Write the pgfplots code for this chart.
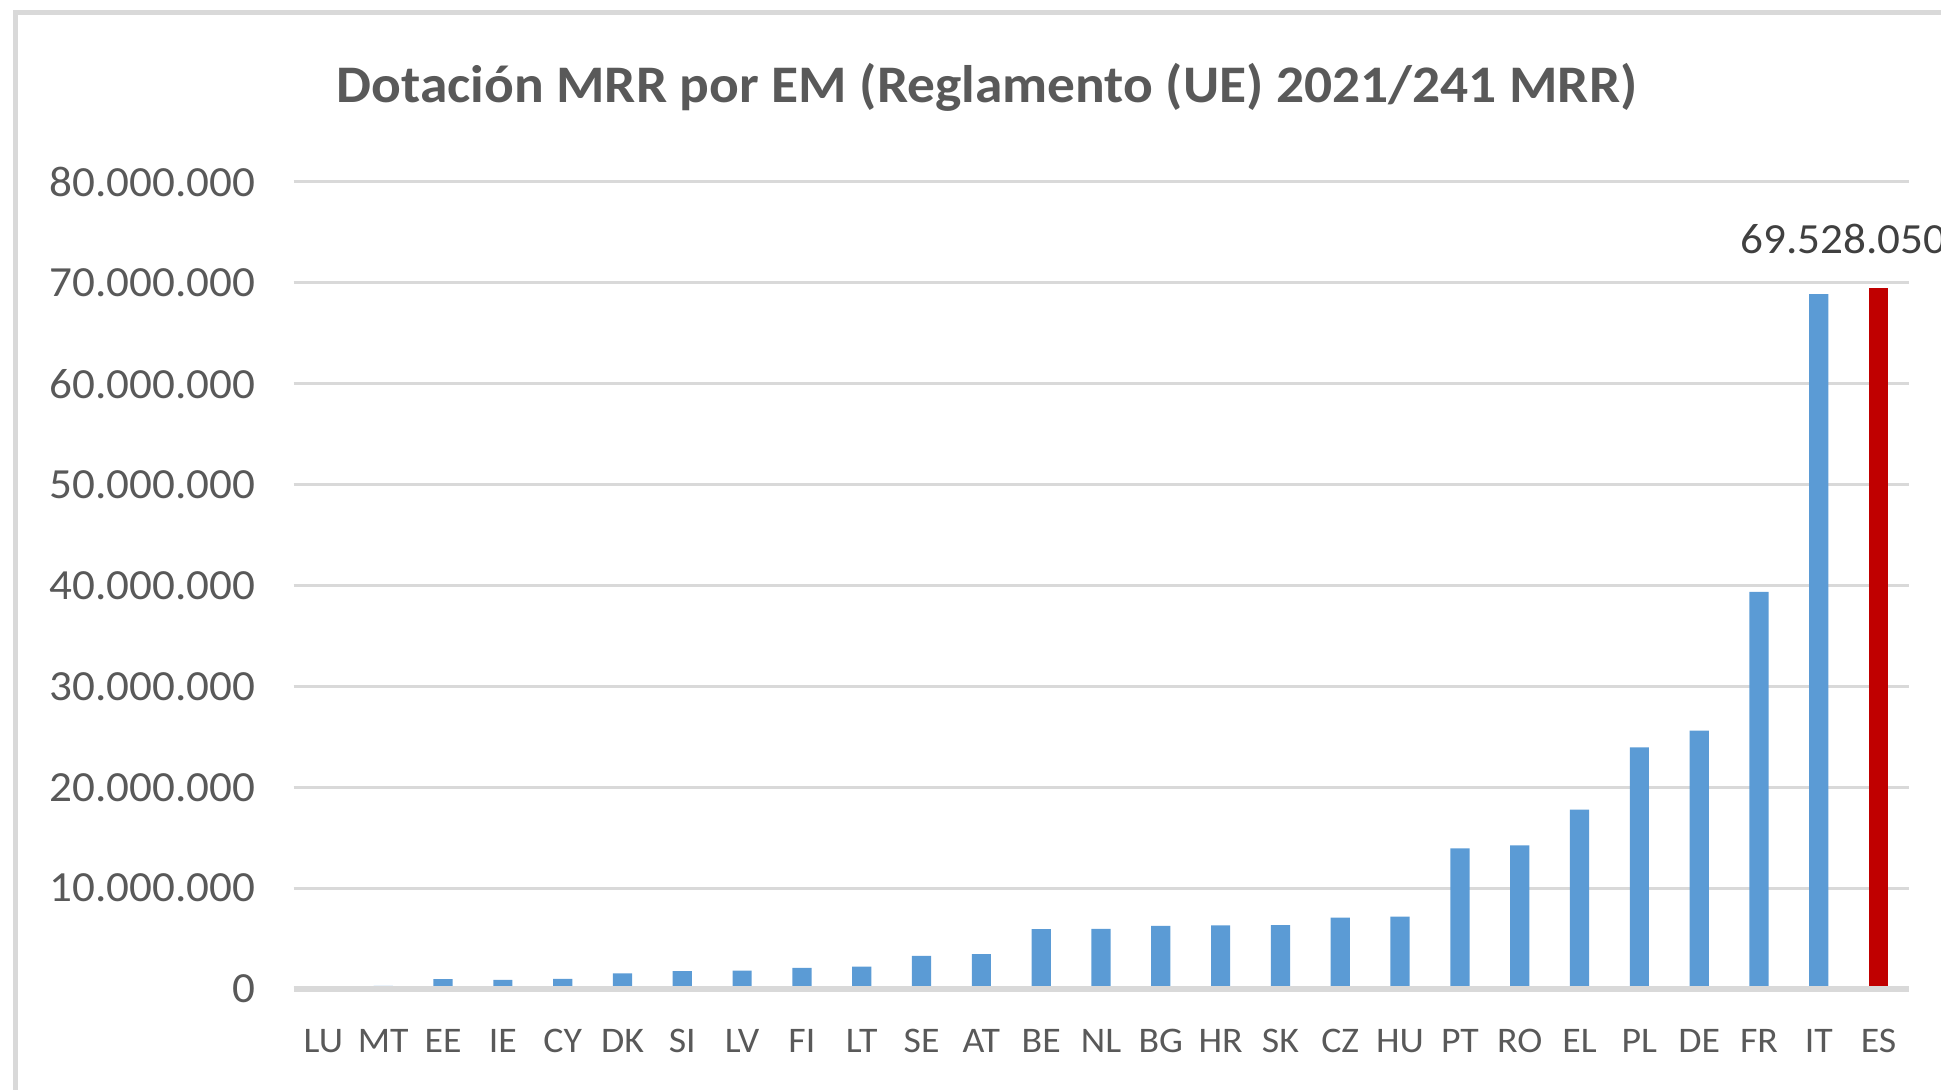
\documentclass[border=0pt]{standalone}
\usepackage{pgfplots}
\pgfplotsset{compat=1.18}
\usepackage{fontspec}
\setmainfont{Carlito}
\newfontfamily\wide[FakeStretch=1.05]{Carlito}
\definecolor{txt}{HTML}{595959}
\definecolor{lbl}{HTML}{404040}
\definecolor{gridc}{HTML}{D9D9D9}
\definecolor{barblue}{HTML}{5B9BD5}
\definecolor{barred}{HTML}{C00000}
\begin{document}
\begin{tikzpicture}
\useasboundingbox (0,0) rectangle (970.5pt,545pt);
\draw[gridc, line width=2.5pt] (7.5pt,-20pt) -- (7.5pt,538.5pt) -- (1000pt,538.5pt);
\node[anchor=base, text=txt, font=\fontsize{26.4}{30}\wide\bfseries, inner sep=0pt] at (493.5pt,493.5pt) {Dotación MRR por EM (Reglamento (UE) 2021/241 MRR)};
\begin{axis}[
 at={(146.75pt,50.5pt)}, anchor=south west,
 scale only axis, width=807.5pt, height=403.5pt,
 xmin=-0.5, xmax=26.5, ymin=0, ymax=80000000,
 ybar, bar width=9.6pt, bar shift=0pt,
 axis line style={draw=none},
 major tick length=0pt,
 clip=false,
 scaled y ticks=false,
 ymajorgrids, grid style={gridc, line width=1.5pt},
 ytick={0,10000000,20000000,30000000,40000000,50000000,60000000,70000000,80000000},
 yticklabels={0,10.000.000,20.000.000,30.000.000,40.000.000,50.000.000,60.000.000,70.000.000,80.000.000},
 yticklabel style={font=\fontsize{21.5}{24}\wide, text=txt, inner sep=0pt, anchor=east, xshift=-19pt},
 xtick={0,...,26},
 xticklabels={LU,MT,EE,IE,CY,DK,SI,LV,FI,LT,SE,AT,BE,NL,BG,HR,SK,CZ,HU,PT,RO,EL,PL,DE,FR,IT,ES},
 xticklabel style={font=\fontsize{18}{20}\wide, text=txt, inner sep=0pt, anchor=base, yshift=-32pt},
]
\addplot[fill=barblue, draw=none] coordinates {
(0,93255) (1,316418) (2,969304) (3,914974) (4,1006470) (5,1551429) (6,1776929) (7,1826434) (8,2085479) (9,2224369)
(10,3285119) (11,3460783) (12,5924563) (13,5958951) (14,6266894) (15,6295429) (16,6328754) (17,7075585) (18,7172206)
(19,13944180) (20,14248078) (21,17769984) (22,23947947) (23,25613434) (24,39373422) (25,68880513)};
\addplot[fill=barred, draw=none, nodes near coords={69.528.050},
 every node near coord/.append style={font=\fontsize{21.5}{24}\wide, text=lbl, inner sep=0pt, anchor=base, yshift=17.3pt, xshift=-17.7pt}] coordinates {(26,69528050)};
\draw[gridc, line width=3pt] (axis cs:-0.5,0) -- (axis cs:26.5,0);
\end{axis}
\end{tikzpicture}
\end{document}
